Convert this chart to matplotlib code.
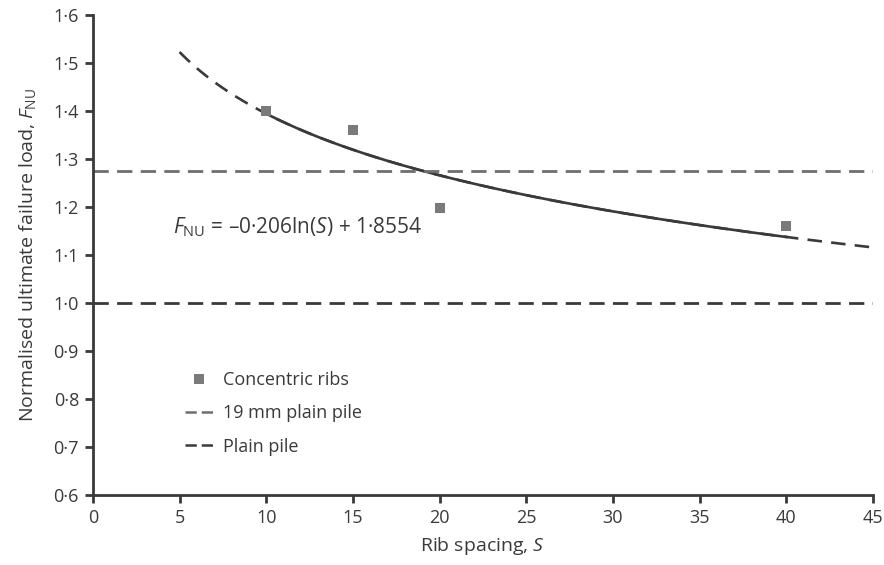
import numpy as np
import matplotlib
matplotlib.use('Agg')
import matplotlib.pyplot as plt
from matplotlib.ticker import FuncFormatter
from matplotlib.lines import Line2D

plt.rcParams['font.family'] = ['Open Sans', 'DejaVu Sans']
plt.rcParams['mathtext.fontset'] = 'custom'
plt.rcParams['mathtext.rm'] = 'Open Sans'
plt.rcParams['mathtext.it'] = 'Open Sans:italic'

# data
rib_spacing = [10, 15, 20, 40]
failure_load = [1.40, 1.36, 1.197, 1.16]
plain_19mm = 1.274
plain_pile = 1.0
fit_range = (5, 45)
solid_range = (10, 40)

x_ticks = [0, 5, 10, 15, 20, 25, 30, 35, 40, 45]
y_ticks = [0.6, 0.7, 0.8, 0.9, 1.0, 1.1, 1.2, 1.3, 1.4, 1.5, 1.6]

dark = '#3a3a3a'
grey = '#6e6e6e'
text_col = '#3a3a3a'

fig = plt.figure(figsize=(8.84, 5.65), dpi=100)
ax = fig.add_axes([0.105, 0.124, 0.8826, 0.8495])

# log trendline fitted to the points
b, a = np.polyfit(np.log(rib_spacing), failure_load, 1)
xs_all = np.linspace(fit_range[0], fit_range[1], 200)
xs_solid = np.linspace(solid_range[0], solid_range[1], 200)
ax.plot(xs_all, a + b * np.log(xs_all), color=dark, lw=1.9, dashes=(5.5, 3.5))
ax.plot(xs_solid, a + b * np.log(xs_solid), color=dark, lw=1.9)

ax.axhline(plain_19mm, color=grey, lw=2.0, dashes=(5.5, 3))
ax.axhline(plain_pile, color=dark, lw=2.0, dashes=(5.5, 3))
ax.scatter(rib_spacing, failure_load, marker='s', s=46, color='#7a7a7a', zorder=5, linewidths=0)

ax.set_xlim(0, 45)
ax.set_ylim(0.6, 1.6)
ax.set_xticks(x_ticks)
ax.set_yticks(y_ticks)
ax.yaxis.set_major_formatter(FuncFormatter(lambda v, p: f'{v:.1f}'.replace('.', '\u00b7')))

for s in ['top', 'right']:
    ax.spines[s].set_visible(False)
for s in ['left', 'bottom']:
    ax.spines[s].set_color(dark)
    ax.spines[s].set_linewidth(2.0)
ax.tick_params(axis='both', direction='out', length=6, width=2.0, color=dark,
               labelsize=13, labelcolor=text_col, pad=4)

ax.set_xlabel('Rib spacing, $\\mathit{S}$', fontsize=14, color=text_col, labelpad=6)
ax.set_ylabel('Normalised ultimate failure load, $\\mathit{F}_{\\mathrm{NU}}$', fontsize=14,
              color=text_col, labelpad=11)

ax.text(4.6, 1.158, '$\\mathit{F}_{\\mathrm{NU}}$ = \u20130\u00b7206ln($\\mathit{S}$) + 1\u00b78554',
        fontsize=15, color=text_col, va='center')

handles = [
    Line2D([], [], marker='s', ls='none', color='#7a7a7a', markersize=6.5, markeredgewidth=0),
    Line2D([], [], color=grey, lw=1.8, dashes=(4.5, 2)),
    Line2D([], [], color=dark, lw=1.8, dashes=(4.5, 2)),
]
labels = ['Concentric ribs', '19 mm plain pile', 'Plain pile']
leg = ax.legend(handles, labels, loc='upper left', bbox_to_anchor=(0.118, 0.258), frameon=False,
                fontsize=13, handlelength=1.55, handletextpad=0.55, labelspacing=0.85,
                borderpad=0, borderaxespad=0)
for t in leg.get_texts():
    t.set_color(text_col)

fig.savefig('out.png', dpi=100)
